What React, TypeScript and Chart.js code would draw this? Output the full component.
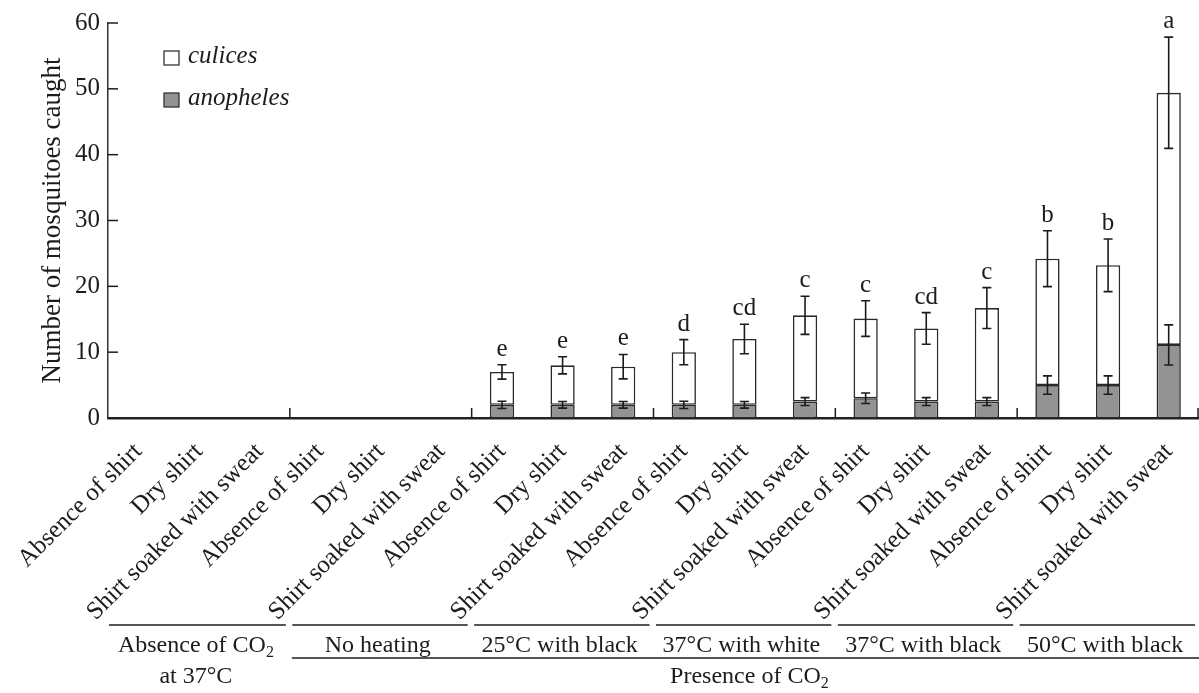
import React, { useEffect, useRef } from 'react';
import { Chart, registerables } from 'chart.js';

Chart.register(...registerables);

const categories = [
  'Absence of shirt', 'Dry shirt', 'Shirt soaked with sweat',
  'Absence of shirt', 'Dry shirt', 'Shirt soaked with sweat',
  'Absence of shirt', 'Dry shirt', 'Shirt soaked with sweat',
  'Absence of shirt', 'Dry shirt', 'Shirt soaked with sweat',
  'Absence of shirt', 'Dry shirt', 'Shirt soaked with sweat',
  'Absence of shirt', 'Dry shirt', 'Shirt soaked with sweat',
];

const groupLabels = [
  ['Absence of CO₂', 'at 37°C'],
  ['No heating'],
  ['25°C with black'],
  ['37°C with white'],
  ['37°C with black'],
  ['50°C with black'],
];
const superGroupLabel = 'Presence of CO₂';

const anopheles = [0, 0, 0, 0, 0, 0, 2, 2, 2, 2, 2, 2.5, 3, 2.5, 2.5, 5, 5, 11.1];
const anophelesErr = [0, 0, 0, 0, 0, 0, 0.55, 0.5, 0.5, 0.55, 0.5, 0.6, 0.8, 0.6, 0.6, 1.4, 1.4, 3.05];
const culices = [0, 0, 0, 0, 0, 0, 5, 6, 5.8, 8, 10, 13.1, 12.1, 11.1, 14.2, 19.2, 18.2, 38.3];
const totalErr = [0, 0, 0, 0, 0, 0, 1.1, 1.3, 1.85, 1.9, 2.25, 2.9, 2.7, 2.4, 3.1, 4.25, 4.0, 8.45];
const letters = ['', '', '', '', '', '', 'e', 'e', 'e', 'd', 'cd', 'c', 'c', 'cd', 'c', 'b', 'b', 'a'];

const seriesNames = ['anopheles', 'culices'];
const yTitle = 'Number of mosquitoes caught';

const FONT = '"Liberation Serif", "Times New Roman", serif';
const INK = '#1c1c1c';
const GREY = '#939393';

function drawSubText(ctx: CanvasRenderingContext2D, text: string, cx: number, baseline: number, size: number) {
  const parts = text.split('₂');
  const main = parts[0];
  const hasSub = parts.length > 1;
  ctx.font = `${size}px ${FONT}`;
  const wMain = ctx.measureText(main).width;
  ctx.font = `${Math.round(size * 0.68)}px ${FONT}`;
  const wSub = hasSub ? ctx.measureText('2').width : 0;
  const start = cx - (wMain + wSub) / 2;
  ctx.textAlign = 'left';
  ctx.textBaseline = 'alphabetic';
  ctx.font = `${size}px ${FONT}`;
  ctx.fillText(main, start, baseline);
  if (hasSub) {
    ctx.font = `${Math.round(size * 0.68)}px ${FONT}`;
    ctx.fillText('2', start + wMain, baseline + size * 0.22);
  }
}

const overlay = {
  id: 'overlay',
  afterDatasetsDraw(chart: any) {
    const { ctx, chartArea, scales } = chart;
    const x = scales.x;
    const y = scales.y;
    ctx.save();
    ctx.strokeStyle = INK;
    ctx.fillStyle = INK;
    ctx.lineWidth = 1.6;

    const drawErr = (px: number, val: number, err: number) => {
      const t = y.getPixelForValue(val + err);
      const b = y.getPixelForValue(val - err);
      ctx.beginPath();
      ctx.moveTo(px, t); ctx.lineTo(px, b);
      ctx.moveTo(px - 4.5, t); ctx.lineTo(px + 4.5, t);
      ctx.moveTo(px - 4.5, b); ctx.lineTo(px + 4.5, b);
      ctx.stroke();
    };

    const meta = chart.getDatasetMeta(1);
    categories.forEach((_, i) => {
      const px = meta.data[i].x;
      const total = anopheles[i] + culices[i];
      if (anophelesErr[i] > 0) drawErr(px, anopheles[i], anophelesErr[i]);
      if (totalErr[i] > 0) drawErr(px, total, totalErr[i]);
      if (letters[i]) {
        ctx.font = `25px ${FONT}`;
        ctx.textAlign = 'center';
        ctx.textBaseline = 'alphabetic';
        ctx.fillText(letters[i], px, y.getPixelForValue(total + totalErr[i]) - 9);
      }
    });

    // inward y ticks
    ctx.lineWidth = 1.5;
    y.ticks.forEach((t: any) => {
      const py = y.getPixelForValue(t.value);
      ctx.beginPath();
      ctx.moveTo(chartArea.left, py);
      ctx.lineTo(chartArea.left + 10, py);
      ctx.stroke();
    });

    // group separators on the x axis
    const bounds: number[] = [];
    for (let g = 0; g <= groupLabels.length; g++) {
      if (g === 0) bounds.push(chartArea.left);
      else if (g === groupLabels.length) bounds.push(chartArea.right);
      else bounds.push((x.getPixelForValue(3 * g - 1) + x.getPixelForValue(3 * g)) / 2);
    }
    bounds.slice(1).forEach((bx, k) => {
      const xx = k === bounds.length - 2 ? bx - 1 : bx;
      ctx.beginPath();
      ctx.moveTo(xx, chartArea.bottom);
      ctx.lineTo(xx, chartArea.bottom - 10);
      ctx.stroke();
    });

    // group brackets and labels
    const lineY = chartArea.bottom + 207;
    ctx.lineWidth = 1.5;
    groupLabels.forEach((lbl, g) => {
      const l = g === 0 ? bounds[0] + 1 : bounds[g] + 2.5;
      const r = bounds[g + 1] - 4;
      ctx.beginPath();
      ctx.moveTo(l, lineY);
      ctx.lineTo(r, lineY);
      ctx.stroke();
      const cx = (bounds[g] + bounds[g + 1]) / 2 - 3;
      lbl.forEach((line, j) => {
        drawSubText(ctx, line, cx, chartArea.bottom + 234 + j * 31, 24);
      });
    });
    const supL = bounds[1] + 2;
    const supR = chartArea.right;
    ctx.beginPath();
    ctx.moveTo(supL, chartArea.bottom + 240);
    ctx.lineTo(supR, chartArea.bottom + 240);
    ctx.stroke();
    drawSubText(ctx, superGroupLabel, (supL + supR) / 2 + 4, chartArea.bottom + 265, 24);

    // legend (culices on top, anopheles below)
    const ds = chart.data.datasets;
    const order = [1, 0];
    order.forEach((di, k) => {
      const bx = chartArea.left + 56;
      const by = chartArea.top + 28 + k * 42;
      ctx.fillStyle = ds[di].backgroundColor;
      ctx.fillRect(bx, by, 15, 14);
      ctx.strokeStyle = '#333';
      ctx.lineWidth = 1.3;
      ctx.strokeRect(bx, by, 15, 14);
      ctx.fillStyle = INK;
      ctx.font = `italic 25px ${FONT}`;
      ctx.textAlign = 'left';
      ctx.textBaseline = 'alphabetic';
      ctx.fillText(ds[di].label, bx + 24, by + 12);
    });

    ctx.restore();
  },
};

export default function App() {
  const canvasRef = useRef<HTMLCanvasElement | null>(null);

  useEffect(() => {
    document.body.style.margin = '0';
    const canvas = canvasRef.current;
    if (!canvas) return;
    const borderFn = (ctx: any) => (ctx.raw ? 1.6 : 0);
    const chart = new Chart(canvas, {
      type: 'bar',
      data: {
        labels: categories,
        datasets: [
          {
            label: seriesNames[0],
            data: anopheles,
            backgroundColor: GREY,
            borderColor: '#2a2a2a',
            borderWidth: borderFn as any,
            borderSkipped: false,
            stack: 's',
          },
          {
            label: seriesNames[1],
            data: culices,
            backgroundColor: '#ffffff',
            borderColor: '#2a2a2a',
            borderWidth: borderFn as any,
            borderSkipped: false,
            stack: 's',
          },
        ],
      },
      options: {
        animation: false,
        responsive: true,
        maintainAspectRatio: false,
        layout: { padding: { top: 20, right: 0, left: 0, bottom: 0 } },
        datasets: { bar: { barPercentage: 0.4, categoryPercentage: 1 } },
        plugins: { legend: { display: false }, tooltip: { enabled: false } },
        scales: {
          x: {
            stacked: true,
            offset: true,
            grid: { display: false, drawTicks: false },
            border: { display: true, color: '#222', width: 2.5 },
            ticks: {
              autoSkip: false,
              maxRotation: 45,
              minRotation: 45,
              padding: 19,
              color: INK,
              font: { family: FONT, size: 25 },
            },
            afterFit: (s: any) => {
              s.height = 275;
              s.paddingLeft = 0;
              s.paddingRight = 0;
            },
          },
          y: {
            stacked: true,
            min: 0,
            max: 60,
            ticks: { stepSize: 10, padding: 8, color: INK, font: { family: FONT, size: 25 } },
            grid: { display: false, drawTicks: false },
            border: { display: true, color: '#333', width: 1.5 },
            title: {
              display: true,
              text: yTitle,
              color: INK,
              font: { family: FONT, size: 27 },
              padding: { top: 37, bottom: 0 },
            },
            afterFit: (s: any) => { s.width = 108; },
          },
        },
      },
      plugins: [overlay],
    });
    return () => chart.destroy();
  }, []);

  return (
    <div style={{ position: 'relative', width: 1199, height: 693 }}>
      <canvas ref={canvasRef} />
    </div>
  );
}
